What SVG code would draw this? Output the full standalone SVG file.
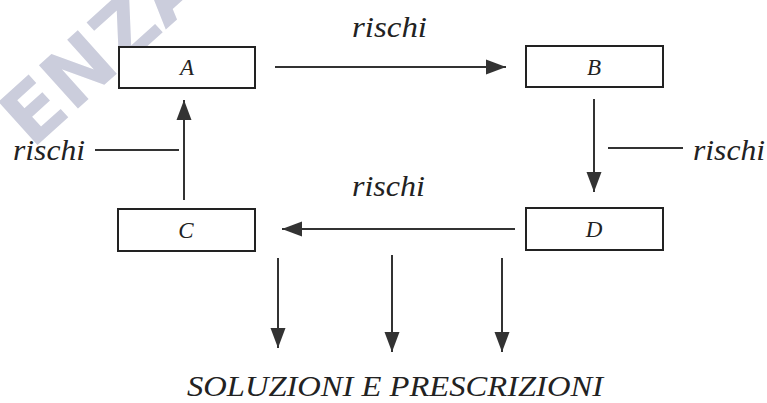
<svg xmlns="http://www.w3.org/2000/svg" width="767" height="403" viewBox="0 0 767 403">
<style>
.box{fill:#fff;stroke:#222;stroke-width:2}
.lbl{font-size:23px;fill:#222;text-anchor:middle}
.t{font-size:29px;fill:#222}
.ln{stroke:#333;stroke-width:2;fill:none}
.wm{font-weight:bold;font-size:80px;fill:#cbcddc}
</style>
<defs>
<marker id="ah" viewBox="0 0 10 10" refX="10" refY="5" markerWidth="10" markerHeight="10" markerUnits="userSpaceOnUse" orient="auto" overflow="visible">
<path d="M0,0 L10,5 L0,10 Z" fill="#333" transform="scale(2,1.5) translate(-5,-1.67)"/>
</marker>
</defs>
<rect width="767" height="403" fill="#fff"/>
<text class="wm" font-family="DejaVu Sans, sans-serif" transform="translate(32,150) rotate(-42)">ENZA</text>
<g font-family="Liberation Serif, Times New Roman, serif" font-style="italic">
<g id="A"><rect class="box" x="119" y="47" width="136" height="41"/><text class="lbl" x="187" y="75">A</text></g>
<g id="B"><rect class="box" x="526" y="46" width="137" height="41"/><text class="lbl" x="594" y="75">B</text></g>
<g id="C"><rect class="box" x="118" y="209" width="137" height="42"/><text class="lbl" x="186" y="238">C</text></g>
<g id="D"><rect class="box" x="526" y="208" width="137" height="42"/><text class="lbl" x="594" y="237">D</text></g>
<g id="labels">
<text class="t" x="352" y="37" textLength="75" lengthAdjust="spacingAndGlyphs">rischi</text>
<text class="t" x="693" y="160" textLength="72" lengthAdjust="spacingAndGlyphs">rischi</text>
<text class="t" x="13" y="160" textLength="72" lengthAdjust="spacingAndGlyphs">rischi</text>
<text class="t" x="352" y="196" textLength="73" lengthAdjust="spacingAndGlyphs">rischi</text>
<text class="t" x="187" y="396" font-size="21" textLength="416" lengthAdjust="spacingAndGlyphs">SOLUZIONI E PRESCRIZIONI</text>
</g>
</g>
<g id="connectors">
<line class="ln" x1="275" y1="67" x2="506" y2="67" marker-end="url(#ah)"/>
<line class="ln" x1="594" y1="99" x2="594" y2="192" marker-end="url(#ah)"/>
<line class="ln" x1="515" y1="229" x2="282" y2="229" marker-end="url(#ah)"/>
<line class="ln" x1="184" y1="200" x2="184" y2="100" marker-end="url(#ah)"/>
<line class="ln" x1="608" y1="148" x2="683" y2="148"/>
<line class="ln" x1="95" y1="150" x2="179" y2="150"/>
<line class="ln" x1="278" y1="258" x2="278" y2="348" marker-end="url(#ah)"/>
<line class="ln" x1="392" y1="255" x2="392" y2="352" marker-end="url(#ah)"/>
<line class="ln" x1="502" y1="258" x2="502" y2="352" marker-end="url(#ah)"/>
</g>
</svg>
